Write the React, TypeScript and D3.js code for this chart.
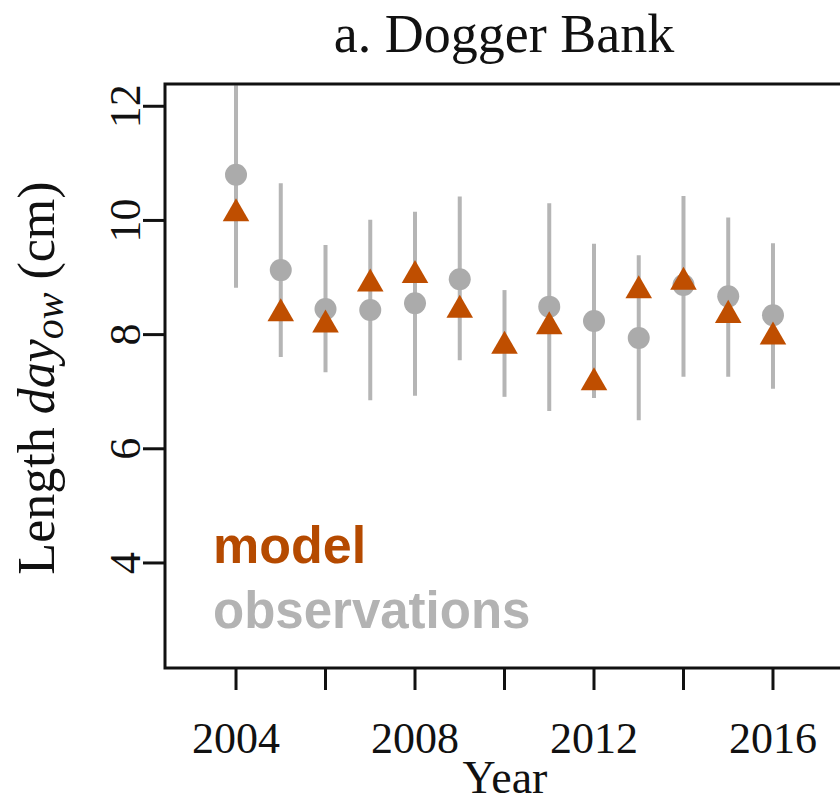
import React from "react";
import * as d3 from "d3";

// Mean length per year: model (triangles) and observations (circles with ranges)
const years = [2004, 2005, 2006, 2007, 2008, 2009, 2010, 2011, 2012, 2013, 2014, 2015, 2016];
const modelValues = [10.12, 8.37, 8.17, 8.89, 9.04, 8.43, 7.8, 8.14, 7.16, 8.77, 8.92, 8.34, 7.96];
// 2010 has a range but no plotted mean
const obsValues = [10.8, 9.13, 8.45, 8.43, 8.55, 8.97, null, 8.49, 8.24, 7.94, 8.87, 8.67, 8.34];
const obsLower = [8.82, 7.61, 7.34, 6.85, 6.93, 7.55, 6.91, 6.66, 6.89, 6.5, 7.26, 7.26, 7.05];
const obsUpper = [12.37, 10.65, 9.57, 10.01, 10.15, 10.42, 8.78, 10.3, 9.59, 9.39, 10.43, 10.05, 9.6];

const xTicks = [2004, 2006, 2008, 2010, 2012, 2014, 2016];
const xTickLabels = ["2004", "", "2008", "", "2012", "", "2016"];
const yTicks = [4, 6, 8, 10, 12];

const W = 840;
const H = 805;
const plot = { left: 165, right: 844, top: 84, bottom: 668 };

const MODEL_COLOR = "#BF4E00";
const OBS_COLOR = "#ABABAB";
const BAR_COLOR = "#B5B5B5";
const SERIF = "'Liberation Serif', 'Times New Roman', serif";
const SANS = "'Liberation Sans', Arial, sans-serif";

export default function App() {
  const x = d3.scaleLinear().domain([2002.413, 2017.587]).range([plot.left, plot.right]);
  const y = d3.scaleLinear().domain([2.16, 12.39]).range([plot.bottom, plot.top]);
  const tri = d3.symbol().type(d3.symbolTriangle).size(306)();

  return (
    <svg
      width={W}
      height={H}
      style={{ position: "absolute", left: 0, top: 0, background: "#fff" }}
    >
      <rect x={0} y={0} width={W} height={H} fill="#fff" />

      {/* title */}
      <text x={504} y={52} textAnchor="middle" fontFamily={SERIF} fontSize={54} fill="#111">
        a. Dogger Bank
      </text>

      {/* observation ranges */}
      <g>
        {years.map((yr, i) => (
          <line
            key={"bar" + yr}
            x1={x(yr)}
            x2={x(yr)}
            y1={Math.max(y(obsUpper[i]), plot.top)}
            y2={y(obsLower[i])}
            stroke={BAR_COLOR}
            strokeWidth={4}
          />
        ))}
      </g>

      {/* observations */}
      <g>
        {years.map((yr, i) =>
          obsValues[i] == null ? null : (
            <circle key={"obs" + yr} cx={x(yr)} cy={y(obsValues[i] as number)} r={11} fill={OBS_COLOR} />
          )
        )}
      </g>

      {/* model */}
      <g>
        {years.map((yr, i) => (
          <path
            key={"mod" + yr}
            d={tri as string}
            transform={`translate(${x(yr)},${y(modelValues[i])})`}
            fill={MODEL_COLOR}
          />
        ))}
      </g>

      {/* legend */}
      <text x={213} y={563} fontFamily={SANS} fontWeight="bold" fontSize={52} fill="#B54A00">
        model
      </text>
      <text x={213} y={628} fontFamily={SANS} fontWeight="bold" fontSize={51} fill="#B3B3B3">
        observations
      </text>

      {/* frame */}
      <rect
        x={plot.left}
        y={plot.top}
        width={plot.right - plot.left}
        height={plot.bottom - plot.top}
        fill="none"
        stroke="#111"
        strokeWidth={3}
      />

      {/* x axis */}
      <g>
        {xTicks.map((t, i) => (
          <g key={"xt" + t}>
            <line x1={x(t)} x2={x(t)} y1={plot.bottom} y2={plot.bottom + 22} stroke="#111" strokeWidth={3} />
            {xTickLabels[i] && (
              <text x={x(t)} y={753} textAnchor="middle" fontFamily={SERIF} fontSize={44} fill="#111">
                {xTickLabels[i]}
              </text>
            )}
          </g>
        ))}
        <text x={505} y={793} textAnchor="middle" fontFamily={SERIF} fontSize={46} fill="#111">
          Year
        </text>
      </g>

      {/* y axis */}
      <g>
        {yTicks.map((t) => (
          <g key={"yt" + t}>
            <line x1={plot.left - 22} x2={plot.left} y1={y(t)} y2={y(t)} stroke="#111" strokeWidth={3} />
            <text
              transform={`translate(140,${y(t)}) rotate(-90)`}
              textAnchor="middle"
              fontFamily={SERIF}
              fontSize={44}
              fill="#111"
            >
              {t}
            </text>
          </g>
        ))}
        <text
          transform="translate(54,378) rotate(-90)"
          textAnchor="middle"
          fontFamily={SERIF}
          fontSize={52}
          fill="#111"
        >
          <tspan>Length </tspan>
          <tspan fontStyle="italic">day</tspan>
          <tspan fontStyle="italic" fontSize={40} dy={9}>ow</tspan>
          <tspan dy={-9}> (cm)</tspan>
        </text>
      </g>
    </svg>
  );
}
